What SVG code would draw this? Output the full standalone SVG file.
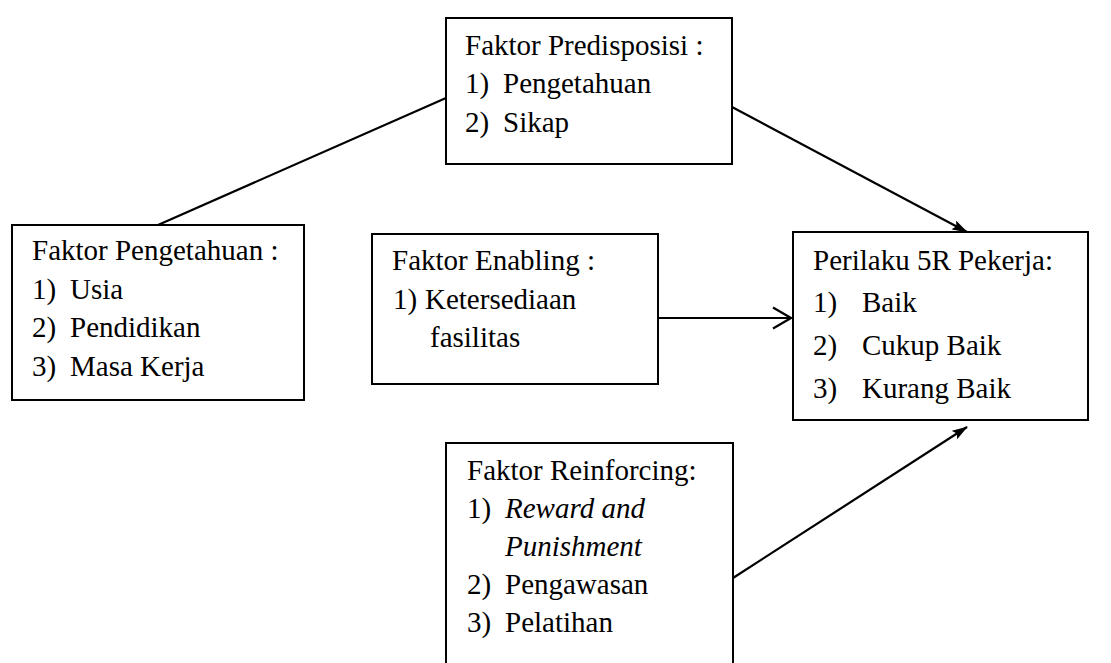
<svg xmlns="http://www.w3.org/2000/svg" width="1111" height="663" viewBox="0 0 1111 663">
<style>
  .box { fill: #fff; stroke: #000; stroke-width: 2; }
  .t { font-family: "Liberation Serif", "Times New Roman", serif; font-size: 29px; fill: #000; }
  .i { font-style: italic; }
  .ln { stroke: #000; stroke-width: 2.2; fill: none; }
</style>
<defs>
  <marker id="fill" viewBox="0 0 16 10" refX="15" refY="5" markerWidth="16" markerHeight="10" markerUnits="userSpaceOnUse" orient="auto">
    <path d="M0,0 L16,5 L0,10 L3,5 Z" fill="#000"/>
  </marker>
  <marker id="open" viewBox="0 0 20 24" refX="19" refY="12" markerWidth="20" markerHeight="24" markerUnits="userSpaceOnUse" orient="auto">
    <path d="M1,1.5 L19,12 L1,22.5" fill="none" stroke="#000" stroke-width="2.2"/>
  </marker>
</defs>
<rect width="1111" height="663" fill="#fff"/>
<g id="connectors">
  <line class="ln" x1="158" y1="225" x2="446" y2="98"/>
  <line class="ln" x1="732" y1="107" x2="967" y2="232" marker-end="url(#fill)"/>
  <line class="ln" x1="658" y1="318" x2="791" y2="318" marker-end="url(#open)"/>
  <line class="ln" x1="733" y1="578" x2="967" y2="427" marker-end="url(#fill)"/>
</g>
<g id="predisposisi">
  <rect class="box" x="446" y="18" width="286" height="146"/>
  <text class="t" x="465" y="55">Faktor Predisposisi :</text>
  <text class="t" x="465" y="93">1)</text><text class="t" x="503" y="93">Pengetahuan</text>
  <text class="t" x="465" y="132">2)</text><text class="t" x="503" y="132">Sikap</text>
</g>
<g id="pengetahuan">
  <rect class="box" x="12" y="225" width="292" height="175"/>
  <text class="t" x="32" y="260">Faktor Pengetahuan :</text>
  <text class="t" x="32" y="298.5">1)</text><text class="t" x="70" y="298.5">Usia</text>
  <text class="t" x="32" y="337">2)</text><text class="t" x="70" y="337">Pendidikan</text>
  <text class="t" x="32" y="375.5">3)</text><text class="t" x="70" y="375.5">Masa Kerja</text>
</g>
<g id="enabling">
  <rect class="box" x="372" y="234" width="286" height="150"/>
  <text class="t" x="392" y="270">Faktor Enabling :</text>
  <text class="t" x="393" y="308.5">1)</text><text class="t" x="425" y="308.5">Ketersediaan</text>
  <text class="t" x="430" y="347">fasilitas</text>
</g>
<g id="perilaku">
  <rect class="box" x="793" y="232" width="295" height="188"/>
  <text class="t" x="813" y="270">Perilaku 5R Pekerja:</text>
  <text class="t" x="813" y="312">1)</text><text class="t" x="862" y="312">Baik</text>
  <text class="t" x="813" y="355">2)</text><text class="t" x="862" y="355">Cukup Baik</text>
  <text class="t" x="813" y="398">3)</text><text class="t" x="862" y="398">Kurang Baik</text>
</g>
<g id="reinforcing">
  <rect class="box" x="446" y="443" width="287" height="240"/>
  <text class="t" x="467" y="480">Faktor Reinforcing:</text>
  <text class="t" x="467" y="518">1)</text><text class="t i" x="505" y="518">Reward and</text>
  <text class="t i" x="505" y="556">Punishment</text>
  <text class="t" x="467" y="594">2)</text><text class="t" x="505" y="594">Pengawasan</text>
  <text class="t" x="467" y="632">3)</text><text class="t" x="505" y="632">Pelatihan</text>
</g>
</svg>
